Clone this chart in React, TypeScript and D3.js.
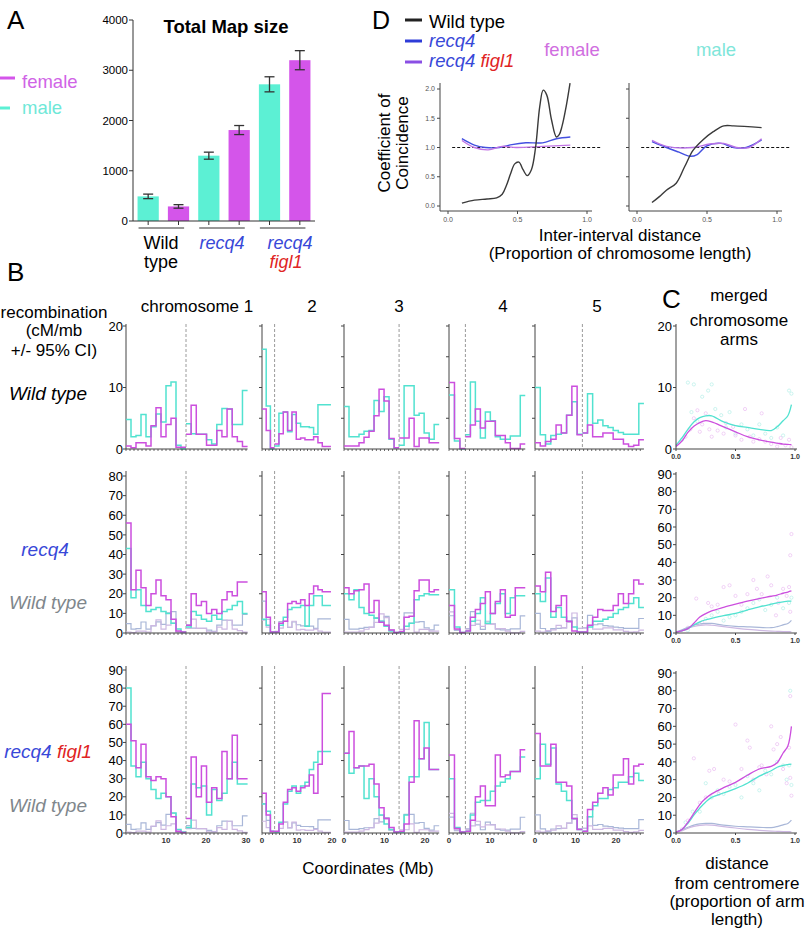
import React from "react";
import * as d3 from "d3";

const FONT = "'Liberation Sans', Arial, Helvetica, sans-serif";

// ---------------- Panel A data ----------------
const genotypes = ["Wild type", "recq4", "recq4 figl1"];
const sexes = ["male", "female"];
const mapSizeMale = [490, 1300, 2720];
const mapSizeFemale = [290, 1810, 3200];
const mapErrMale = [45, 70, 150];
const mapErrFemale = [35, 90, 190];
const mapTicks = [0, 1000, 2000, 3000, 4000];

// ---------------- Panel B data ----------------
const chromLabels = ["chromosome 1", "2", "3", "4", "5"];
const chromLengthMb = [30.4, 19.7, 23.5, 18.6, 26.9];
const centromereMb = [15.0, 3.6, 13.6, 4.0, 11.7];
const chromTickLabels = [[10, 20, 30], [0, 10, 20], [0, 10, 20], [0, 10], [0, 10, 20]];
const rowMaxima = [20, 80, 90];
const rowTickLabels = [[0, 10, 20], [0, 10, 20, 30, 40, 50, 60, 70, 80], [0, 10, 20, 30, 40, 50, 60, 70, 80, 90]];
const rowMinorTicks = [[5, 10, 15, 20], [20, 40, 60, 80], [20, 40, 60, 80]];

// [left arm bins, right arm bins] per chromosome, cM/Mb
const wtFemale = [
  [[0.5, 0.2, 1.0, 1.0, 0.5, 3.8, 6.7, 2.0, 4.0, 5.0, 0.3, 0.3], [2.4, 7.1, 2.4, 2.4, 0.6, 0.6, 3.0, 2.0, 6.5, 2.0, 1.2, 0.4]],
  [[6.5, 3.0, 0.2], [0.8, 2.5, 6.0, 3.0, 6.0, 1.6, 1.8, 1.5, 1.5, 2.0, 1.0, 0.4, 0.4]],
  [[0.5, 0.5, 0.5, 1.0, 1.9, 2.9, 5.4, 9.7, 7.8, 1.7, 0.2], [1.8, 1.8, 5.0, 0.4, 1.8, 1.8, 1.0, 1.0]],
  [[10.8, 1.7, 0.1], [2.0, 3.9, 6.5, 3.4, 4.5, 4.5, 2.2, 2.2, 1.0, 0.1, 0.1, 0.8]],
  [[1.0, 0.5, 1.2, 1.6, 3.9, 2.6, 5.5, 10.2, 2.3], [2.6, 3.9, 2.0, 2.0, 2.6, 2.6, 1.6, 1.6, 0.8, 0.4, 0.6, 1.5]],
];
const wtMale = [
  [[4.8, 2.0, 2.2, 5.6, 2.0, 3.6, 5.7, 4.4, 10.3, 10.9, 0.6, 0.0], [4.1, 2.5, 2.4, 2.4, 1.5, 0.8, 4.0, 6.6, 6.5, 4.0, 4.0, 9.5]],
  [[16.2, 7.0, 0], [0.5, 5.8, 6.0, 2.8, 5.6, 4.2, 3.6, 3.6, 3.5, 2.4, 7.2, 7.2, 7.2]],
  [[6.9, 2.0, 2.0, 2.4, 2.9, 3.0, 7.9, 6.1, 8.5, 1.6, 0.2], [0.6, 10.3, 10.3, 5.5, 5.8, 2.6, 1.6, 4.0]],
  [[8.8, 1.3, 0], [2.3, 10.9, 4.5, 1.8, 6.0, 4.6, 2.0, 1.6, 1.6, 2.1, 2.1, 8.7]],
  [[10.0, 2.3, 0.8, 2.2, 2.4, 2.6, 5.5, 7.7, 2.4], [2.6, 9.0, 4.2, 4.7, 3.8, 3.5, 3.0, 2.7, 2.4, 2.4, 2.4, 7.4]],
];
const recq4Female = [
  [[56, 22, 32, 23, 14, 20, 27, 19, 17, 7, 1, 0.5], [4, 20, 14, 16, 10, 12, 10, 17, 21, 19, 26, 26]],
  [[21, 8, 0.5], [0.5, 5, 6, 15, 16, 15, 17, 14, 20, 24, 22, 21, 21]],
  [[23, 20, 21.5, 22, 25, 10.5, 16.5, 5.5, 4, 1.5, 0.3], [0.8, 8, 8.5, 21.5, 27, 27, 21, 22]],
  [[14, 2, 0.3], [1, 8, 12, 15, 21, 10, 16, 22, 8, 9, 23, 23]],
  [[24, 21, 31, 11, 14, 19, 6, 1, 0.5], [0.5, 4, 8, 12, 11.5, 11.5, 14, 20, 15, 20, 27, 25]],
];
const recq4Male = [
  [[43, 18, 22, 14, 11, 12, 13, 11, 10, 5, 2, 0.5], [3, 11, 9, 7, 6, 9, 7, 11, 12, 14, 16, 10]],
  [[7, 4, 0.5], [0.5, 4, 8, 12, 13, 13, 14, 3.5, 14, 19, 19, 14, 14]],
  [[20, 17, 22, 13, 10, 9, 7.5, 6, 3.5, 1, 0.2], [0.5, 3.5, 5, 17, 19, 20, 19.5, 19.5]],
  [[22, 3, 0.3], [1, 6, 10, 18, 5, 10, 15, 20, 10, 18, 19, 19]],
  [[20, 16, 28, 8, 13, 8, 6, 3, 0.5], [0.5, 3, 6, 6, 7, 8, 10, 12, 13, 15, 18, 13]],
];
const figl1Female = [
  [[60, 51, 36, 49, 31, 29, 31, 30, 20, 9, 1, 0.3], [8, 42, 20, 37, 17, 25, 19, 45, 30, 54, 30, 30]],
  [[22, 10, 1], [1, 5, 17, 24, 25, 23, 25, 26, 32, 22, 38, 77, 77]],
  [[44, 56, 36, 37, 37, 38, 27, 14, 8, 3, 0.5], [1, 5, 28, 62, 41, 47, 35, 35]],
  [[43, 2.5, 0.5], [1, 7, 20, 26, 15, 15, 43, 31, 32, 34, 34, 46]],
  [[55, 37, 37, 49, 28, 28, 26, 8, 2], [1, 13, 17, 22, 25, 21, 32, 32, 41, 27, 37, 38]],
];
const figl1Male = [
  [[80, 37, 31, 39, 30, 24, 19, 22, 20, 11, 2, 0.5], [3, 27, 25, 26, 10, 24, 18, 22, 30, 39, 27, 27]],
  [[16, 12, 1], [0.5, 6, 16, 23, 26, 22, 26, 28, 35, 39, 45, 45, 45]],
  [[44, 33, 36, 37, 19, 30, 20, 10, 5, 2, 0.5], [0.5, 10, 31, 31, 41, 61, 35, 35]],
  [[30, 3, 0.5], [1, 10, 17, 18, 18, 23, 26, 28, 30, 34, 34, 42]],
  [[30, 49, 38, 47, 27, 23, 18, 8, 2], [1, 9, 15, 19, 19, 24, 25, 28, 28, 31, 33, 29]],
];

// ---------------- Panel C data ----------------
const cGrid = [0, 0.05, 0.1, 0.15, 0.2, 0.25, 0.3, 0.4, 0.5, 0.6, 0.7, 0.8, 0.85, 0.9, 0.94, 0.97];
const cWtFemale = [0.4, 1.3, 2.7, 3.7, 4.3, 4.6, 4.4, 3.6, 2.8, 2.0, 1.5, 1.1, 0.95, 0.8, 0.75, 0.7];
const cWtMale = [0.6, 1.8, 3.2, 4.4, 5.1, 5.4, 5.4, 4.4, 3.8, 3.5, 3.2, 3.0, 3.6, 4.6, 5.4, 7.2];
const cRecq4Female = [0.5, 1.2, 2.5, 5.5, 9, 11, 12.5, 14.5, 16.3, 18, 19.5, 20.8, 21.5, 22.5, 23.2, 23.8];
const cRecq4Male = [0.5, 1.2, 2.5, 4.5, 6.3, 7.5, 8.3, 9.8, 11.1, 13, 14.8, 16.3, 17, 17.6, 18, 18];
const cFigl1Female = [0.5, 2, 6, 11, 16, 19.5, 22, 25.5, 28.5, 32.5, 36, 37.5, 39.5, 45, 49, 60];
const cFigl1Male = [0.5, 2, 5.5, 10, 14, 17.5, 20, 22.5, 25, 28, 32, 35, 37, 38, 38.5, 38.8];
const cPtsWtFemale = [[0.08, 2], [0.12, 3.2], [0.15, 5], [0.18, 6.3], [0.2, 2.8], [0.22, 4], [0.25, 5.8], [0.28, 3.2], [0.3, 2], [0.35, 3], [0.4, 2.5], [0.42, 4.2], [0.48, 3.6], [0.5, 2.2], [0.55, 1.5], [0.58, 6.5], [0.62, 2], [0.65, 1.2], [0.7, 1.6], [0.72, 5.8], [0.75, 1.2], [0.8, 0.8], [0.85, 0.4], [0.88, 1.8], [0.92, 0.6], [0.95, 1.5], [0.97, 0.3]];
const cPtsWtMale = [[0.05, 1.5], [0.1, 10.8], [0.13, 6], [0.15, 10.5], [0.18, 4.5], [0.22, 8.5], [0.27, 9.5], [0.3, 10.5], [0.33, 6.5], [0.38, 5.5], [0.42, 3.5], [0.45, 6], [0.5, 2.5], [0.55, 4], [0.6, 3.2], [0.65, 2.2], [0.7, 4], [0.75, 2.5], [0.8, 1.8], [0.85, 3.5], [0.9, 2.2], [0.95, 9.5], [0.97, 9]];
const cPtsRecq4Female = [[0.1, 3], [0.17, 19.5], [0.22, 6], [0.27, 17], [0.3, 15], [0.35, 16], [0.4, 26], [0.45, 27], [0.5, 21], [0.55, 16], [0.6, 22], [0.65, 30], [0.68, 25], [0.72, 22], [0.77, 32], [0.8, 27], [0.84, 10], [0.86, 17], [0.9, 25], [0.93, 21], [0.95, 26], [0.96, 44], [0.97, 56], [0.96, 12]];
const cPtsRecq4Male = [[0.1, 1.5], [0.2, 5], [0.25, 8], [0.3, 10], [0.35, 12], [0.4, 7], [0.45, 9], [0.5, 10], [0.55, 12], [0.6, 14], [0.65, 17], [0.7, 19], [0.75, 13], [0.8, 16], [0.85, 20], [0.9, 14], [0.95, 17], [0.97, 20]];
const cPtsFigl1Female = [[0.05, 2], [0.1, 7], [0.15, 42], [0.2, 17], [0.25, 20], [0.28, 35], [0.32, 36], [0.36, 22], [0.4, 30], [0.45, 29], [0.5, 61], [0.55, 36], [0.6, 52], [0.62, 48], [0.65, 30], [0.7, 37], [0.72, 38], [0.76, 33], [0.8, 60], [0.82, 47], [0.85, 50], [0.88, 54], [0.9, 36], [0.93, 28], [0.95, 48], [0.96, 77], [0.96, 31], [0.97, 21]];
const cPtsFigl1Male = [[0.08, 6], [0.14, 12], [0.2, 12], [0.25, 28], [0.3, 20], [0.35, 24], [0.4, 22], [0.45, 26], [0.5, 27], [0.55, 20], [0.6, 32], [0.65, 28], [0.7, 24], [0.75, 35], [0.8, 33], [0.85, 40], [0.9, 38], [0.93, 30], [0.95, 38], [0.96, 80], [0.97, 27]];
const cTicksX = [0, 0.5, 1];

// ---------------- Panel D data ----------------
const dFemWtX = [0.1, 0.19, 0.28, 0.35, 0.39, 0.42, 0.45, 0.48, 0.51, 0.54, 0.57, 0.6, 0.63, 0.66, 0.685, 0.71, 0.745, 0.78, 0.8, 0.82, 0.85, 0.878];
const dFemWtY = [0.05, 0.1, 0.12, 0.14, 0.2, 0.35, 0.55, 0.72, 0.75, 0.62, 0.52, 0.62, 1.0, 1.7, 1.98, 1.9, 1.47, 1.18, 1.22, 1.36, 1.7, 2.1];
const dFemRecq4X = [0.1, 0.19, 0.27, 0.37, 0.46, 0.56, 0.68, 0.78, 0.88];
const dFemRecq4Y = [1.15, 1.04, 1.0, 1.0, 1.05, 1.08, 1.08, 1.15, 1.18];
const dFemFigl1X = [0.1, 0.19, 0.29, 0.39, 0.49, 0.68, 0.88];
const dFemFigl1Y = [1.12, 1.0, 0.96, 1.02, 1.0, 1.02, 1.04];
const dMalWtX = [0.107, 0.16, 0.21, 0.28, 0.34, 0.4, 0.47, 0.545, 0.62, 0.69, 0.89];
const dMalWtY = [0.06, 0.16, 0.27, 0.39, 0.67, 0.95, 1.13, 1.27, 1.37, 1.37, 1.34];
const dMalRecq4X = [0.107, 0.21, 0.3, 0.38, 0.43, 0.5, 0.6, 0.69, 0.78, 0.89];
const dMalRecq4Y = [1.1, 1.0, 0.92, 0.85, 0.88, 1.03, 1.07, 1.0, 1.0, 1.13];
const dMalFigl1X = [0.107, 0.21, 0.4, 0.52, 0.62, 0.71, 0.8, 0.89];
const dMalFigl1Y = [1.12, 1.02, 1.0, 1.06, 1.07, 1.0, 1.0, 1.15];
const dTicksY = [0, 0.5, 1, 1.5, 2];
const dTicksX = [0, 0.5, 1];

// ---------------- colours ----------------
const BAR_F = "#d455ea";
const BAR_M = "#5cf0d4";
const LINE_F = "#cc4fde";
const LINE_M = "#52e2d0";
const WT_F = "#cdb8e2";
const WT_M = "#a9b7d8";
const BLUE = "#3848d8";
const RED = "#e02424";
const GRAY_TXT = "#7f878c";
const AX = "#444";

const fmt1 = d3.format(".1f");

function stepPath(vals: number[], a: number, b: number, x: any, y: any) {
  const w = (b - a) / vals.length;
  const pts: [number, number][] = vals.map((v, i) => [a + i * w, v]);
  pts.push([b, vals[vals.length - 1]]);
  return d3.line<[number, number]>().x((d) => x(d[0])).y((d) => y(d[1])).curve(d3.curveStepAfter)(pts) || "";
}

function smoothPath(xs: number[], ys: number[], x: any, y: any) {
  const pts: [number, number][] = xs.map((v, i) => [v, ys[i]]);
  return d3.line<[number, number]>().x((d) => x(d[0])).y((d) => y(d[1])).curve(d3.curveCatmullRom.alpha(0.5))(pts) || "";
}

export default function App() {
  // ----- Panel A -----
  const aY = d3.scaleLinear().domain([0, 4000]).range([221, 20]);
  const barKeys = genotypes.flatMap((g) => sexes.map((s) => g + "|" + s));
  const aX = d3.scaleBand().domain(barKeys).range([133, 315]).paddingInner(0.3).paddingOuter(0.15);
  const bw = aX.bandwidth();

  const panelA = (
    <g>
      <text x={7} y={29} fontSize={26} fontFamily={FONT}>A</text>
      <text x={226} y={33} fontSize={18.5} fontWeight="bold" textAnchor="middle" fontFamily={FONT}>Total Map size</text>
      {genotypes.map((g, gi) => {
        const vals = [mapSizeMale[gi], mapSizeFemale[gi]];
        const errs = [mapErrMale[gi], mapErrFemale[gi]];
        return sexes.map((s, si) => {
          const k = g + "|" + s;
          const x0 = aX(k) as number;
          const cx = x0 + bw / 2;
          return (
            <g key={k}>
              <rect x={x0} y={aY(vals[si])} width={bw} height={aY(0) - aY(vals[si])} fill={si === 0 ? BAR_M : BAR_F} />
              <line x1={cx} x2={cx} y1={aY(vals[si] - errs[si])} y2={aY(vals[si] + errs[si])} stroke="#333" strokeWidth={1.3} />
              <line x1={cx - 5} x2={cx + 5} y1={aY(vals[si] - errs[si])} y2={aY(vals[si] - errs[si])} stroke="#333" strokeWidth={1.3} />
              <line x1={cx - 5} x2={cx + 5} y1={aY(vals[si] + errs[si])} y2={aY(vals[si] + errs[si])} stroke="#333" strokeWidth={1.3} />
              <line x1={cx} x2={cx} y1={221} y2={225} stroke="#333" strokeWidth={1} />
            </g>
          );
        });
      })}
      <line x1={133} x2={133} y1={20} y2={221} stroke="#333" strokeWidth={1} />
      <line x1={133} x2={315} y1={221} y2={221} stroke="#333" strokeWidth={1} />
      {mapTicks.map((t) => (
        <g key={t}>
          <line x1={129} x2={133} y1={aY(t)} y2={aY(t)} stroke="#333" />
          <text x={128} y={aY(t)} dy="0.35em" fontSize={11.5} textAnchor="end" fontFamily={FONT}>{t}</text>
        </g>
      ))}
      {genotypes.map((g) => {
        const xl = (aX(g + "|male") as number) + 1;
        const xr = (aX(g + "|female") as number) + bw - 5;
        return <line key={g} x1={xl} x2={xr} y1={228} y2={228} stroke="#333" strokeWidth={1.2} />;
      })}
      <text x={161} y={249} fontSize={18} textAnchor="middle" fontFamily={FONT}>Wild</text>
      <text x={161} y={268} fontSize={18} textAnchor="middle" fontFamily={FONT}>type</text>
      <text x={222} y={249} fontSize={18} textAnchor="middle" fontStyle="italic" fill={BLUE} fontFamily={FONT}>recq4</text>
      <text x={290} y={249} fontSize={18} textAnchor="middle" fontStyle="italic" fill={BLUE} fontFamily={FONT}>recq4</text>
      <text x={286} y={268} fontSize={18} textAnchor="middle" fontStyle="italic" fill={RED} fontFamily={FONT}>figl1</text>
      {/* legend */}
      <line x1={0} x2={15} y1={78} y2={78} stroke={BAR_F} strokeWidth={3} />
      <text x={22} y={88} fontSize={18.5} fill="#d064e6" fontFamily={FONT}>female</text>
      <line x1={0} x2={10} y1={108} y2={108} stroke={BAR_M} strokeWidth={3} />
      <text x={22} y={114} fontSize={18.5} fill="#6fe8d8" fontFamily={FONT}>male</text>
    </g>
  );

  // ----- Panel D -----
  const dY = d3.scaleLinear().domain([0, 2]).range([206, 89]);
  const dXs = [d3.scaleLinear().domain([0, 1]).range([448, 587]), d3.scaleLinear().domain([0, 1]).range([637, 777])];
  const dAxisX = [440, 629];
  const dSeries = [
    [
      { xs: dFemRecq4X, ys: dFemRecq4Y, c: "#4450e0" },
      { xs: dFemFigl1X, ys: dFemFigl1Y, c: "#c274e4" },
      { xs: dFemWtX, ys: dFemWtY, c: "#3a3a3a" },
    ],
    [
      { xs: dMalRecq4X, ys: dMalRecq4Y, c: "#4450e0" },
      { xs: dMalFigl1X, ys: dMalFigl1Y, c: "#b672e6" },
      { xs: dMalWtX, ys: dMalWtY, c: "#3a3a3a" },
    ],
  ];
  const panelD = (
    <g>
      <defs>
        <clipPath id="dclip0"><rect x={440} y={82} width={170} height={132} /></clipPath>
        <clipPath id="dclip1"><rect x={629} y={82} width={170} height={132} /></clipPath>
      </defs>
      <text x={372} y={29} fontSize={25} fontFamily={FONT}>D</text>
      <line x1={405} x2={422} y1={20} y2={20} stroke="#222" strokeWidth={3} />
      <text x={429} y={28} fontSize={18.5} fontFamily={FONT}>Wild type</text>
      <line x1={405} x2={422} y1={41} y2={41} stroke="#2e3cd8" strokeWidth={3} />
      <text x={429} y={47} fontSize={18.5} fontStyle="italic" fill={BLUE} fontFamily={FONT}>recq4</text>
      <line x1={405} x2={422} y1={62} y2={62} stroke="#8a4fe4" strokeWidth={3} />
      <text x={429} y={67} fontSize={18.5} fontStyle="italic" fontFamily={FONT}>
        <tspan fill={BLUE}>recq4 </tspan>
        <tspan fill={RED}>figl1</tspan>
      </text>
      <text x={572} y={56} fontSize={18.5} textAnchor="middle" fill="#d06ee0" fontFamily={FONT}>female</text>
      <text x={716} y={56} fontSize={18.5} textAnchor="middle" fill="#7fe6da" fontFamily={FONT}>male</text>
      {dXs.map((x, pi) => (
        <g key={pi}>
          <line x1={dAxisX[pi]} x2={dAxisX[pi]} y1={83} y2={211} stroke={AX} strokeWidth={1} />
          <line x1={dAxisX[pi]} x2={pi === 0 ? 592 : 782} y1={211} y2={211} stroke={AX} strokeWidth={1} />
          {dTicksY.map((t) => (
            <g key={t}>
              <line x1={dAxisX[pi] - 3} x2={dAxisX[pi]} y1={dY(t)} y2={dY(t)} stroke={AX} />
              {pi === 0 && (
                <text x={dAxisX[pi] - 5} y={dY(t)} dy="0.35em" fontSize={7} textAnchor="end" fill="#555" fontFamily={FONT}>{fmt1(t)}</text>
              )}
            </g>
          ))}
          {dTicksX.map((t) => (
            <g key={t}>
              <line x1={x(t)} x2={x(t)} y1={211} y2={214} stroke={AX} />
              <text x={x(t)} y={222} fontSize={7} textAnchor="middle" fill="#555" fontFamily={FONT}>{fmt1(t)}</text>
            </g>
          ))}
          <line x1={x(0.03)} x2={x(1.1)} y1={dY(1)} y2={dY(1)} stroke="#111" strokeWidth={1.2} strokeDasharray="3,2" />
          <g clipPath={`url(#dclip${pi})`}>
            {dSeries[pi].map((s, si) => (
              <path key={si} d={smoothPath(s.xs, s.ys, x, dY)} fill="none" stroke={s.c} strokeWidth={1.4} />
            ))}
          </g>
        </g>
      ))}
      <text transform="translate(390,143) rotate(-90)" fontSize={17} textAnchor="middle" fontFamily={FONT}>Coefficient of</text>
      <text transform="translate(408,143) rotate(-90)" fontSize={17} textAnchor="middle" fontFamily={FONT}>Coincidence</text>
      <text x={620} y={241} fontSize={17} textAnchor="middle" fontFamily={FONT}>Inter-interval distance</text>
      <text x={620} y={259} fontSize={17} textAnchor="middle" fontFamily={FONT}>(Proportion of chromosome length)</text>
    </g>
  );

  // ----- Panel B -----
  const chromLeftPx = [126, 262, 344, 449, 535];
  const chromPxPerMb = [4.0, 3.5, 4.05, 4.1, 4.05];
  const chromLabelX = [197, 312, 399, 503, 597];
  const rowY0 = [449, 633, 833];
  const rowY1 = [326, 476, 670];
  const rowTop = [324, 471, 666];
  const rowsData = [
    { fem: wtFemale, mal: wtMale, overlay: false },
    { fem: recq4Female, mal: recq4Male, overlay: true },
    { fem: figl1Female, mal: figl1Male, overlay: true },
  ];

  const panelB = (
    <g>
      <text x={7} y={281} fontSize={26} fontFamily={FONT}>B</text>
      <text x={54} y={318} fontSize={17} textAnchor="middle" fontFamily={FONT}>recombination</text>
      <text x={54} y={336} fontSize={17} textAnchor="middle" fontFamily={FONT}>(cM/mb</text>
      <text x={54} y={356} fontSize={17} textAnchor="middle" fontFamily={FONT}>+/- 95% CI)</text>
      {chromLabels.map((c, ci) => (
        <text key={c} x={chromLabelX[ci]} y={312} fontSize={17} textAnchor="middle" fontFamily={FONT}>{c}</text>
      ))}
      <text x={48} y={400} fontSize={19} fontStyle="italic" textAnchor="middle" fontFamily={FONT}>Wild type</text>
      <text x={45} y={556} fontSize={19} fontStyle="italic" textAnchor="middle" fill={BLUE} fontFamily={FONT}>recq4</text>
      <text x={48} y={609} fontSize={19} fontStyle="italic" textAnchor="middle" fill={GRAY_TXT} fontFamily={FONT}>Wild type</text>
      <text x={48} y={758} fontSize={19} fontStyle="italic" textAnchor="middle" fontFamily={FONT}>
        <tspan fill={BLUE}>recq4 </tspan>
        <tspan fill={RED}>figl1</tspan>
      </text>
      <text x={48} y={812} fontSize={19} fontStyle="italic" textAnchor="middle" fill={GRAY_TXT} fontFamily={FONT}>Wild type</text>
      <text x={368} y={874} fontSize={17} textAnchor="middle" fontFamily={FONT}>Coordinates (Mb)</text>
      {rowsData.map((rd, ri) => {
        const y = d3.scaleLinear().domain([0, rowMaxima[ri]]).range([rowY0[ri], rowY1[ri]]);
        return (
          <g key={ri}>
            {rowTickLabels[ri].map((t) => (
              <g key={t}>
                <line x1={chromLeftPx[0] - 3} x2={chromLeftPx[0]} y1={y(t)} y2={y(t)} stroke={AX} />
                <text x={123} y={y(t)} dy="0.36em" fontSize={13} textAnchor="end" fontFamily={FONT}>{t}</text>
              </g>
            ))}
            {chromLengthMb.map((len, ci) => {
              const x = d3.scaleLinear().domain([0, len]).range([chromLeftPx[ci], chromLeftPx[ci] + len * chromPxPerMb[ci]]);
              const cen = centromereMb[ci];
              const arms = [[0, cen], [cen, len]];
              const draw = (data: number[][][], color: string, sw: number, key: string) =>
                arms.map((ab, ai) => (
                  <path key={key + ai} d={stepPath(data[ci][ai], ab[0], ab[1], x, y)} fill="none" stroke={color} strokeWidth={sw} />
                ));
              return (
                <g key={ci}>
                  <line x1={x(0)} x2={x(0)} y1={rowTop[ri]} y2={rowY0[ri]} stroke={AX} strokeWidth={1} />
                  {ci > 0 && rowMinorTicks[ri].map((t) => (
                    <line key={t} x1={x(0) - 3} x2={x(0)} y1={y(t)} y2={y(t)} stroke={AX} />
                  ))}
                  <line x1={x(cen)} x2={x(cen)} y1={rowTop[ri]} y2={rowY0[ri]} stroke="#9a9a9a" strokeWidth={1} strokeDasharray="3,2" />
                  {rd.overlay && draw(wtMale, WT_M, 1.2, "wm")}
                  {rd.overlay && draw(wtFemale, WT_F, 1.2, "wf")}
                  {draw(rd.mal, LINE_M, 1.5, "m")}
                  {draw(rd.fem, LINE_F, 1.5, "f")}
                  <line x1={x(0)} x2={x(len)} y1={rowY0[ri]} y2={rowY0[ri]} stroke={AX} strokeWidth={1} />
                  {d3.range(0, Math.floor(len) + 1, 1).map((t) => (
                    <line key={"mt" + t} x1={x(t)} x2={x(t)} y1={rowY0[ri]} y2={rowY0[ri] + 2} stroke={AX} strokeWidth={0.8} />
                  ))}
                  {ri === 2 && chromTickLabels[ci].map((t) => (
                    <text key={"tl" + t} x={x(t)} y={rowY0[ri] + 10} fontSize={8} fontWeight="bold" textAnchor="middle" fill="#333" fontFamily={FONT}>{t}</text>
                  ))}
                </g>
              );
            })}
          </g>
        );
      })}
    </g>
  );

  // ----- Panel C -----
  const cX = d3.scaleLinear().domain([0, 1]).range([676, 795]);
  const cY0 = [449, 633, 833];
  const cY1 = [326, 474, 673];
  const cMax = [20, 90, 90];
  const cLabels = [[0, 10, 20], d3.range(0, 100, 10), d3.range(0, 100, 10)];
  const cRowsData = [
    { f: cWtFemale, m: cWtMale, pf: cPtsWtFemale, pm: cPtsWtMale, overlay: false },
    { f: cRecq4Female, m: cRecq4Male, pf: cPtsRecq4Female, pm: cPtsRecq4Male, overlay: true },
    { f: cFigl1Female, m: cFigl1Male, pf: cPtsFigl1Female, pm: cPtsFigl1Male, overlay: true },
  ];
  const panelC = (
    <g>
      <text x={662} y={308} fontSize={26} fontFamily={FONT}>C</text>
      <text x={739} y={301} fontSize={17} textAnchor="middle" fontFamily={FONT}>merged</text>
      <text x={739} y={326} fontSize={17} textAnchor="middle" fontFamily={FONT}>chromosome</text>
      <text x={739} y={345} fontSize={17} textAnchor="middle" fontFamily={FONT}>arms</text>
      {cRowsData.map((rd, ri) => {
        const y = d3.scaleLinear().domain([0, cMax[ri]]).range([cY0[ri], cY1[ri]]);
        return (
          <g key={ri}>
            {rd.pm.map((p, i) => (
              <circle key={"pm" + i} cx={cX(p[0])} cy={y(p[1])} r={1.6} fill="none" stroke="#b6efe8" strokeWidth={0.7} />
            ))}
            {rd.pf.map((p, i) => (
              <circle key={"pf" + i} cx={cX(p[0])} cy={y(p[1])} r={1.6} fill="none" stroke="#ebbff2" strokeWidth={0.7} />
            ))}
            {rd.overlay && <path d={smoothPath(cGrid, cWtMale, cX, y)} fill="none" stroke={WT_M} strokeWidth={1.2} />}
            {rd.overlay && <path d={smoothPath(cGrid, cWtFemale, cX, y)} fill="none" stroke={WT_F} strokeWidth={1.2} />}
            <path d={smoothPath(cGrid, rd.m, cX, y)} fill="none" stroke={LINE_M} strokeWidth={1.3} />
            <path d={smoothPath(cGrid, rd.f, cX, y)} fill="none" stroke={LINE_F} strokeWidth={1.3} />
            <line x1={676} x2={676} y1={cY1[ri] - 2} y2={cY0[ri]} stroke={AX} strokeWidth={1} />
            <line x1={676} x2={797} y1={cY0[ri]} y2={cY0[ri]} stroke={AX} strokeWidth={1} />
            {cLabels[ri].map((t) => (
              <g key={t}>
                <line x1={673} x2={676} y1={y(t)} y2={y(t)} stroke={AX} />
                <text x={672} y={y(t)} dy="0.36em" fontSize={13} textAnchor="end" fontFamily={FONT}>{t}</text>
              </g>
            ))}
            {cTicksX.map((t) => (
              <g key={t}>
                <line x1={cX(t)} x2={cX(t)} y1={cY0[ri]} y2={cY0[ri] + 2} stroke={AX} />
                <text x={cX(t)} y={cY0[ri] + 10} fontSize={7} fontWeight="bold" textAnchor="middle" fill="#333" fontFamily={FONT}>{fmt1(t)}</text>
              </g>
            ))}
          </g>
        );
      })}
      <text x={737} y={869} fontSize={17} textAnchor="middle" fontFamily={FONT}>distance</text>
      <text x={737} y={889} fontSize={17} textAnchor="middle" fontFamily={FONT}>from centromere</text>
      <text x={737} y={907} fontSize={17} textAnchor="middle" fontFamily={FONT}>(proportion of arm</text>
      <text x={737} y={925} fontSize={17} textAnchor="middle" fontFamily={FONT}>length)</text>
    </g>
  );

  return (
    <svg width={807} height={932} viewBox="0 0 807 932" style={{ position: "absolute", left: 0, top: 0, display: "block", background: "#fff" }}>
      <rect x={0} y={0} width={807} height={932} fill="#fff" />
      {panelA}
      {panelD}
      {panelB}
      {panelC}
    </svg>
  );
}
